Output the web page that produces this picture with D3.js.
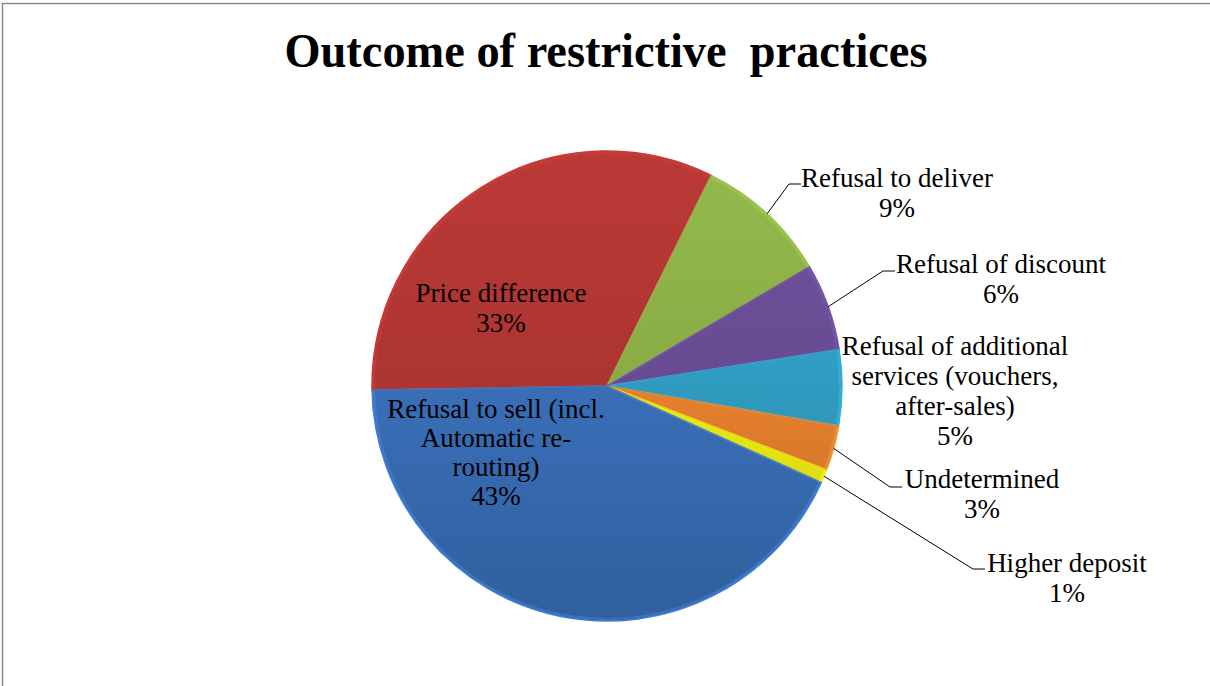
<!DOCTYPE html>
<html>
<head>
<meta charset="utf-8">
<script src="https://cdn.jsdelivr.net/npm/d3@7"></script>
<style>
  html, body { margin: 0; padding: 0; background: #ffffff; }
  svg { display: block; }
</style>
</head>
<body>
<svg id="chart" width="1210" height="686"></svg>
<script>
// ---- data ----
const title = "Outcome of restrictive  practices";
const categories = [
  "Price difference",
  "Refusal to deliver",
  "Refusal of discount",
  "Refusal of additional services (vouchers, after-sales)",
  "Undetermined",
  "Higher deposit",
  "Refusal to sell (incl. Automatic re-routing)"
];
const values = [32.6, 9.2, 6.0, 5.2, 3.1, 0.9, 43.0];
const labelLines = [
  ["Price difference"],
  ["Refusal to deliver"],
  ["Refusal of discount"],
  ["Refusal of additional", "services (vouchers,", "after-sales)"],
  ["Undetermined"],
  ["Higher deposit"],
  ["Refusal to sell (incl.", "Automatic re-", "routing)"]
];
const colors = ["#AE3532", "#8AAD46", "#684C93", "#309DC2", "#E8812E", "#EEEE12", "#3A70BA"];

// ---- layout (not data) ----
const W = 1210, H = 686;
const cx = 607, cy = 386, R = 235;
const startDeg = -91;
const labelLayout = [
  { x: 501, y: 302, lh: 30, elbow: null },
  { x: 897, y: 187, lh: 30, elbow: [789, 184] },
  { x: 1001, y: 273, lh: 30, elbow: [883, 271] },
  { x: 955, y: 355, lh: 30, elbow: null },
  { x: 982, y: 488, lh: 30, elbow: [890, 487] },
  { x: 1067, y: 572, lh: 30, elbow: [973, 569] },
  { x: 496, y: 418, lh: 29, elbow: null }
];

const svg = d3.select("#chart");
const total = d3.sum(values);
const pct = v => Math.round(v / total * 100) + "%";

// frame
svg.append("rect")
  .attr("x", 2.5).attr("y", 3.5)
  .attr("width", W + 20).attr("height", H + 20)
  .attr("fill", "#ffffff")
  .attr("stroke", "#8a8a8a").attr("stroke-width", 1.5);

// title
svg.append("text")
  .attr("x", 606).attr("y", 67)
  .attr("text-anchor", "middle")
  .attr("font-family", "'Liberation Serif', 'Times New Roman', serif")
  .attr("font-weight", "bold")
  .attr("font-size", 48)
  .attr("fill", "#000")
  .attr("textLength", 643)
  .attr("lengthAdjust", "spacingAndGlyphs")
  .style("white-space", "pre")
  .text(title);

// gradients (in the pie group's local coordinates)
const defs = svg.append("defs");
colors.forEach((c, i) => {
  const g = defs.append("linearGradient")
    .attr("id", "grad" + i)
    .attr("gradientUnits", "userSpaceOnUse")
    .attr("x1", 0).attr("y1", -R)
    .attr("x2", 0).attr("y2", R);
  g.append("stop").attr("offset", "0%").attr("stop-color", d3.color(c).brighter(0.2).formatHex());
  g.append("stop").attr("offset", "45%").attr("stop-color", c);
  g.append("stop").attr("offset", "100%").attr("stop-color", d3.color(c).darker(0.45).formatHex());
});

const pie = d3.pie()
  .sort(null)
  .value(d => d)
  .startAngle(startDeg * Math.PI / 180)
  .endAngle(startDeg * Math.PI / 180 + 2 * Math.PI);

const arcs = pie(values);
const arc = d3.arc().innerRadius(0).outerRadius(R);
const edgeArc = d3.arc().innerRadius(R).outerRadius(R);
const rimArc = d3.arc().innerRadius(R - 3).outerRadius(R - 1);

const g = svg.append("g").attr("transform", `translate(${cx},${cy})`);

g.selectAll("path.slice")
  .data(arcs)
  .join("path")
  .attr("class", "slice")
  .attr("d", arc)
  .attr("fill", (d, i) => `url(#grad${i})`)
  .attr("stroke", (d, i) => d3.color(colors[i]).brighter(0.6).formatHex())
  .attr("stroke-width", 1.5)
  .attr("stroke-linejoin", "round");

// subtle bevel rim
g.selectAll("path.rim")
  .data(arcs)
  .join("path")
  .attr("class", "rim")
  .attr("d", rimArc)
  .attr("fill", (d, i) => d3.color(colors[i]).brighter(0.5).formatHex())
  .attr("fill-opacity", 0.5);

g.selectAll("path.edge")
  .data(arcs)
  .join("path")
  .attr("class", "edge")
  .attr("d", arc)
  .attr("fill", "none")
  .attr("stroke", (d, i) => d3.color(colors[i]).darker(0.8).formatHex())
  .attr("stroke-opacity", 0.35)
  .attr("stroke-width", 0.8);

// leader lines
const lines = svg.append("g");
arcs.forEach((d, i) => {
  const L = labelLayout[i];
  if (!L.elbow) return;
  const p = edgeArc.centroid(d);
  const px = cx + p[0], py = cy + p[1];
  lines.append("polyline")
    .attr("points", `${px},${py} ${L.elbow[0]},${L.elbow[1]} ${L.elbow[0] + 12},${L.elbow[1]}`)
    .attr("fill", "none")
    .attr("stroke", "#000")
    .attr("stroke-width", 1);
});

// labels
const labels = svg.append("g")
  .attr("font-family", "'Liberation Serif', 'Times New Roman', serif")
  .attr("font-size", 27)
  .attr("fill", "#000")
  .attr("text-anchor", "middle");

arcs.forEach((d, i) => {
  const L = labelLayout[i];
  const lns = labelLines[i].concat([pct(d.data)]);
  const t = labels.append("text").attr("x", L.x).attr("y", L.y);
  lns.forEach((s, k) => {
    t.append("tspan").attr("x", L.x).attr("y", L.y + k * L.lh).text(s);
  });
});
</script>
</body>
</html>
